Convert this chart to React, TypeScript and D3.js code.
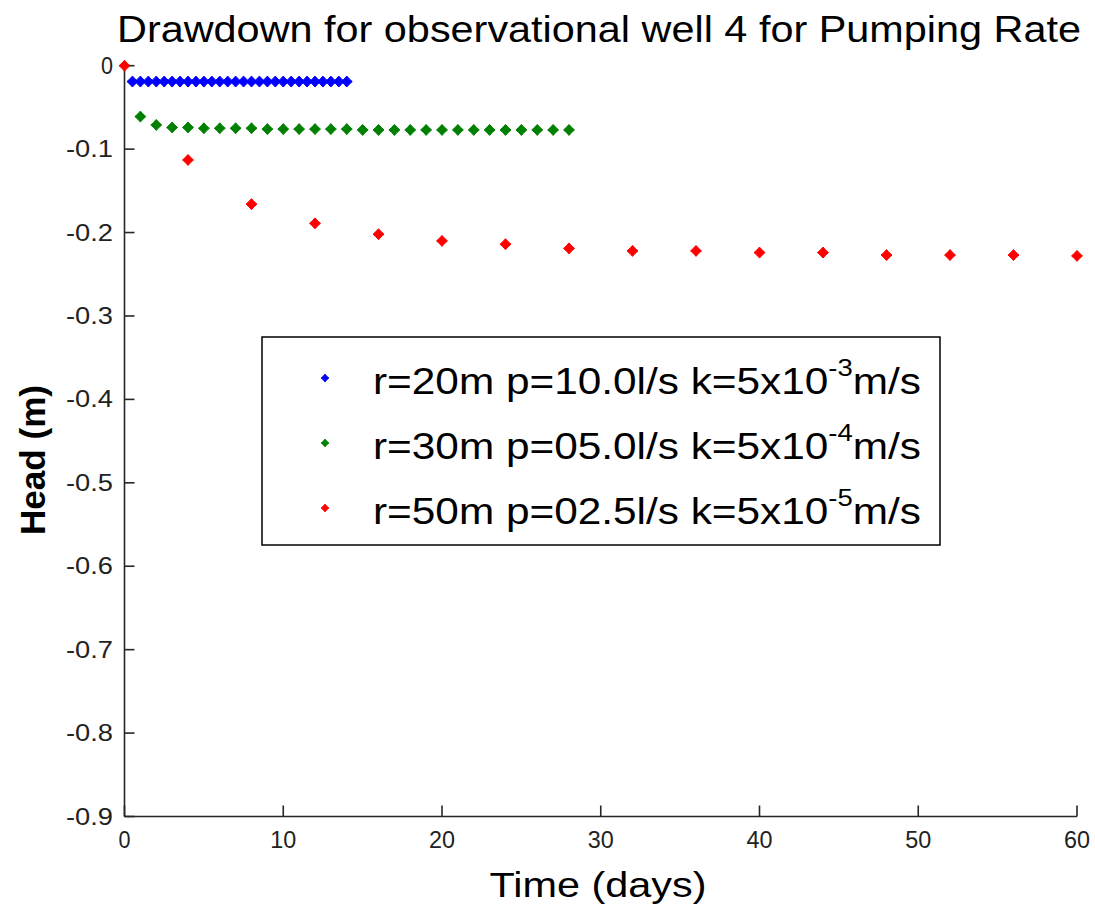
import React, { useEffect, useRef } from "react";
import * as d3 from "d3";

const TITLE = "Drawdown for observational well 4 for Pumping Rate";
const X_LABEL = "Time (days)";
const Y_LABEL = "Head (m)";
const X_TICKS = [0, 10, 20, 30, 40, 50, 60];
const Y_TICKS = [0, -0.1, -0.2, -0.3, -0.4, -0.5, -0.6, -0.7, -0.8, -0.9];

const BLUE_T = [0.5, 1, 1.5, 2, 2.5, 3, 3.5, 4, 4.5, 5, 5.5, 6, 6.5, 7, 7.5, 8, 8.5, 9, 9.5, 10, 10.5, 11, 11.5, 12, 12.5, 13, 13.5, 14];
const BLUE_H = [-0.019, -0.019, -0.019, -0.019, -0.019, -0.019, -0.019, -0.019, -0.019, -0.019, -0.019, -0.019, -0.019, -0.019, -0.019, -0.019, -0.019, -0.019, -0.019, -0.019, -0.019, -0.019, -0.019, -0.019, -0.019, -0.019, -0.019, -0.019];

const GREEN_T = [1, 2, 3, 4, 5, 6, 7, 8, 9, 10, 11, 12, 13, 14, 15, 16, 17, 18, 19, 20, 21, 22, 23, 24, 25, 26, 27, 28];
const GREEN_H = [-0.061, -0.071, -0.074, -0.074, -0.075, -0.075, -0.075, -0.075, -0.076, -0.076, -0.076, -0.076, -0.076, -0.076, -0.077, -0.077, -0.077, -0.077, -0.077, -0.077, -0.077, -0.077, -0.077, -0.077, -0.077, -0.077, -0.077, -0.077];

const RED_T = [0, 4, 8, 12, 16, 20, 24, 28, 32, 36, 40, 44, 48, 52, 56, 60];
const RED_H = [0, -0.113, -0.166, -0.189, -0.202, -0.210, -0.214, -0.219, -0.222, -0.222, -0.224, -0.224, -0.227, -0.227, -0.227, -0.228];

const SERIES = [
  { name: "r=20m p=10.0l/s k=5x10", exp: "-3", tail: "m/s", color: "#0000ff", t: BLUE_T, h: BLUE_H },
  { name: "r=30m p=05.0l/s k=5x10", exp: "-4", tail: "m/s", color: "#008000", t: GREEN_T, h: GREEN_H },
  { name: "r=50m p=02.5l/s k=5x10", exp: "-5", tail: "m/s", color: "#ff0000", t: RED_T, h: RED_H },
];

function starPath(r: number, inner: number) {
  return `M0,${-r}L${inner},${-inner}L${r},0L${inner},${inner}L0,${r}L${-inner},${inner}L${-r},0L${-inner},${-inner}Z`;
}

export default function App() {
  const ref = useRef<SVGSVGElement>(null);
  useEffect(() => {
    const svg = d3.select(ref.current);
    svg.selectAll("*").remove();
    const W = 1095, H = 909;
    const x = d3.scaleLinear().domain([0, 60]).range([124.5, 1077]);
    const y = d3.scaleLinear().domain([0, -0.9]).range([65.7, 816.5]);
    const font = "'Liberation Sans', Arial, sans-serif";
    svg.append("rect").attr("width", W).attr("height", H).attr("fill", "#fff");

    const axisColor = "#262626";
    svg.append("line").attr("x1", x(0)).attr("x2", x(0)).attr("y1", y(0)).attr("y2", y(-0.9)).attr("stroke", axisColor).attr("stroke-width", 1.6);
    svg.append("line").attr("x1", x(0)).attr("x2", x(60)).attr("y1", y(-0.9)).attr("y2", y(-0.9)).attr("stroke", axisColor).attr("stroke-width", 1.6);

    Y_TICKS.forEach((v) => {
      svg.append("line").attr("x1", x(0)).attr("x2", x(0) + 10).attr("y1", y(v)).attr("y2", y(v)).attr("stroke", axisColor).attr("stroke-width", 1.6);
      const label = v === 0 ? "0" : d3.format(".1f")(v).replace("−", "-");
      svg.append("text").attr("x", 113).attr("y", y(v) + 8).attr("text-anchor", "end")
        .attr("font-family", font).attr("font-size", 23).attr("fill", "#222")
        .attr("textLength", label.length === 1 ? 12 : 47).attr("lengthAdjust", "spacingAndGlyphs")
        .text(label);
    });
    X_TICKS.forEach((v) => {
      svg.append("line").attr("x1", x(v)).attr("x2", x(v)).attr("y1", y(-0.9)).attr("y2", y(-0.9) - 11).attr("stroke", axisColor).attr("stroke-width", 1.6);
      const label = String(v);
      svg.append("text").attr("x", x(v)).attr("y", 848).attr("text-anchor", "middle")
        .attr("font-family", font).attr("font-size", 23).attr("fill", "#222")
        .attr("textLength", label.length === 1 ? 12 : 26).attr("lengthAdjust", "spacingAndGlyphs")
        .text(label);
    });

    svg.append("text").attr("x", 599).attr("y", 42).attr("text-anchor", "middle")
      .attr("font-family", font).attr("font-size", 36).attr("fill", "#000")
      .attr("textLength", 964).attr("lengthAdjust", "spacingAndGlyphs").text(TITLE);
    svg.append("text").attr("x", 598).attr("y", 897).attr("text-anchor", "middle")
      .attr("font-family", font).attr("font-size", 35).attr("fill", "#000")
      .attr("textLength", 217).attr("lengthAdjust", "spacingAndGlyphs").text(X_LABEL);
    svg.append("text").attr("transform", `translate(45,460) rotate(-90)`).attr("text-anchor", "middle")
      .attr("font-family", font).attr("font-size", 35).attr("font-weight", "bold").attr("fill", "#000")
      .attr("textLength", 150).attr("lengthAdjust", "spacingAndGlyphs").text(Y_LABEL);

    const star = starPath(5.5, 2.6);
    SERIES.forEach((s) => {
      svg.append("g").selectAll("path").data(s.t.map((t, i) => [t, s.h[i]])).enter().append("path")
        .attr("d", star).attr("transform", (d) => `translate(${x(d[0])},${y(d[1])})`)
        .attr("fill", s.color).attr("stroke", s.color).attr("stroke-width", 1);
    });

    const lg = svg.append("g");
    lg.append("rect").attr("x", 262).attr("y", 337).attr("width", 678).attr("height", 208)
      .attr("fill", "#fff").attr("stroke", "#000").attr("stroke-width", 1.5);
    SERIES.forEach((s, i) => {
      const cy = 378 + i * 65;
      lg.append("path").attr("d", starPath(4, 1.8)).attr("transform", `translate(325,${cy})`).attr("fill", s.color).attr("stroke", s.color).attr("stroke-width", 0.8);
      const t = lg.append("text").attr("x", 373).attr("y", cy + 16).attr("font-family", font).attr("font-size", 37).attr("fill", "#000")
        .attr("textLength", 548).attr("lengthAdjust", "spacingAndGlyphs");
      t.append("tspan").text(s.name);
      t.append("tspan").attr("font-size", 24).attr("dy", -18).text(s.exp);
      t.append("tspan").attr("dy", 18).text(s.tail);
    });
  }, []);
  return <svg ref={ref} width={1095} height={909} style={{ position: "absolute", left: 0, top: 0 }} />;
}
